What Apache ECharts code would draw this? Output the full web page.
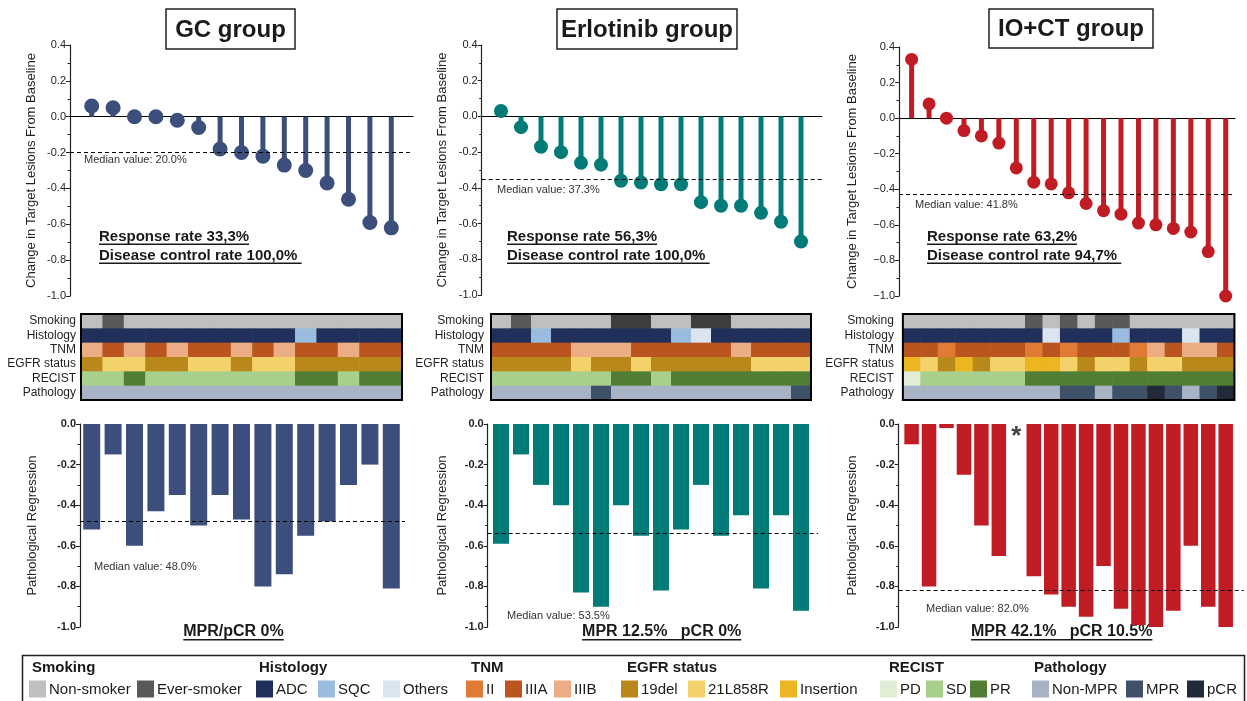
<!DOCTYPE html>
<html>
<head>
<meta charset="utf-8">
<title>Waterfall by group</title>
<script src="https://cdn.jsdelivr.net/npm/echarts@6/dist/echarts.min.js"></script>
<style>
  html, body { margin: 0; padding: 0; background: #fff; }
  #chart { width: 1247px; height: 701px; }
</style>
</head>
<body>
<div id="chart"></div>
<script>
  // ---------- data ----------
  const rowNames = ['Smoking', 'Histology', 'TNM', 'EGFR status', 'RECIST', 'Pathology'];

  // GC group (15 patients)
  const gcChange = [0.06, 0.05, 0.0, 0.0, -0.02, -0.06, -0.18, -0.20, -0.22, -0.27, -0.30, -0.37, -0.46, -0.59, -0.62];
  const gcRegression = [-0.52, -0.15, -0.60, -0.43, -0.35, -0.50, -0.35, -0.47, -0.80, -0.74, -0.55, -0.48, -0.30, -0.20, -0.81];
  const gcMedianChange = -0.20;
  const gcMedianRegression = -0.48;
  const gcSmoking = ['N','E','N','N','N','N','N','N','N','N','N','N','N','N','N'];
  const gcHistology = ['ADC','ADC','ADC','ADC','ADC','ADC','ADC','ADC','ADC','ADC','SQC','ADC','ADC','ADC','ADC'];
  const gcTnm = ['IIIB','IIIA','IIIB','IIIA','IIIB','IIIA','IIIA','IIIB','IIIA','IIIB','IIIA','IIIA','IIIB','IIIA','IIIA'];
  const gcEgfr = ['19del','21L858R','21L858R','19del','19del','21L858R','21L858R','19del','21L858R','21L858R','19del','19del','19del','19del','19del'];
  const gcRecist = ['SD','SD','PR','SD','SD','SD','SD','SD','SD','SD','PR','PR','SD','PR','PR'];
  const gcPathology = ['Non-MPR','Non-MPR','Non-MPR','Non-MPR','Non-MPR','Non-MPR','Non-MPR','Non-MPR','Non-MPR','Non-MPR','Non-MPR','Non-MPR','Non-MPR','Non-MPR','Non-MPR'];

  // Erlotinib group (16 patients)
  const erlChange = [0.03, -0.06, -0.17, -0.20, -0.26, -0.27, -0.36, -0.37, -0.38, -0.38, -0.48, -0.50, -0.50, -0.54, -0.59, -0.70];
  const erlRegression = [-0.59, -0.15, -0.30, -0.40, -0.83, -0.90, -0.40, -0.55, -0.82, -0.52, -0.30, -0.55, -0.45, -0.81, -0.45, -0.92];
  const erlMedianChange = -0.35;
  const erlMedianRegression = -0.54;
  const erlSmoking = ['N','E','N','N','N','N','C','C','N','N','C','C','N','N','N','N'];
  const erlHistology = ['ADC','ADC','SQC','ADC','ADC','ADC','ADC','ADC','ADC','SQC','Others','ADC','ADC','ADC','ADC','ADC'];
  const erlTnm = ['IIIA','IIIA','IIIA','IIIA','IIIB','IIIB','IIIB','IIIA','IIIA','IIIA','IIIA','IIIA','IIIB','IIIA','IIIA','IIIA'];
  const erlEgfr = ['19del','19del','19del','19del','21L858R','19del','19del','21L858R','19del','19del','19del','19del','19del','21L858R','21L858R','21L858R'];
  const erlRecist = ['SD','SD','SD','SD','SD','SD','PR','PR','SD','PR','PR','PR','PR','PR','PR','PR'];
  const erlPathology = ['Non-MPR','Non-MPR','Non-MPR','Non-MPR','Non-MPR','MPR','Non-MPR','Non-MPR','Non-MPR','Non-MPR','Non-MPR','Non-MPR','Non-MPR','Non-MPR','Non-MPR','MPR'];

  // IO+CT group (19 patients), patient 7 has no pathology value (*)
  const ioChange = [0.33, 0.08, 0.0, -0.07, -0.10, -0.14, -0.28, -0.36, -0.37, -0.42, -0.48, -0.52, -0.54, -0.59, -0.60, -0.62, -0.64, -0.75, -1.00];
  const ioRegression = [-0.10, -0.80, -0.02, -0.25, -0.50, -0.65, null, -0.75, -0.84, -0.90, -0.95, -0.70, -0.91, -0.99, -1.00, -0.92, -0.60, -0.90, -1.00];
  const ioMedianChange = -0.43;
  const ioMedianRegression = -0.82;
  const ioMissing = [6];
  const ioSmoking = ['N','N','N','N','N','N','N','E','N','E','N','E','E','N','N','N','N','N','N'];
  const ioHistology = ['ADC','ADC','ADC','ADC','ADC','ADC','ADC','ADC','Others','ADC','ADC','ADC','SQC','ADC','ADC','ADC','Others','ADC','ADC'];
  const ioTnm = ['IIIA','IIIA','II','IIIA','IIIA','IIIA','IIIA','II','IIIA','II','IIIA','IIIA','IIIA','II','IIIB','IIIA','IIIB','IIIB','IIIA'];
  const ioEgfr = ['Insertion','21L858R','19del','Insertion','19del','21L858R','21L858R','Insertion','Insertion','21L858R','19del','21L858R','21L858R','19del','21L858R','21L858R','19del','19del','19del'];
  const ioRecist = ['PD','SD','SD','SD','SD','SD','SD','PR','PR','PR','PR','PR','PR','PR','PR','PR','PR','PR','PR'];
  const ioPathology = ['Non-MPR','Non-MPR','Non-MPR','Non-MPR','Non-MPR','Non-MPR','Non-MPR','Non-MPR','Non-MPR','MPR','MPR','Non-MPR','MPR','MPR','pCR','MPR','Non-MPR','MPR','pCR'];

  // category colours
  const smokingColors = { N: '#bfbfbf', E: '#595959', C: '#3e3e3e' };
  const histologyColors = { ADC: '#21305a', SQC: '#9abddf', Others: '#dbe5f0' };
  const tnmColors = { II: '#e07a35', IIIA: '#ba5520', IIIB: '#edad84' };
  const egfrColors = { '19del': '#b8891a', '21L858R': '#f3d26b', Insertion: '#edb521' };
  const recistColors = { PD: '#e0eed6', SD: '#a8cf8c', PR: '#517e34' };
  const pathologyColors = { 'Non-MPR': '#a8b4c6', MPR: '#3f5069', pCR: '#222a37' };
  const rowPalettes = [smokingColors, histologyColors, tnmColors, egfrColors, recistColors, pathologyColors];

  const legendGroups = [
    { title: 'Smoking', keys: ['N', 'E'], labels: ['Non-smoker', 'Ever-smoker'], colors: smokingColors },
    { title: 'Histology', keys: ['ADC', 'SQC', 'Others'], labels: ['ADC', 'SQC', 'Others'], colors: histologyColors },
    { title: 'TNM', keys: ['II', 'IIIA', 'IIIB'], labels: ['II', 'IIIA', 'IIIB'], colors: tnmColors },
    { title: 'EGFR status', keys: ['19del', '21L858R', 'Insertion'], labels: ['19del', '21L858R', 'Insertion'], colors: egfrColors },
    { title: 'RECIST', keys: ['PD', 'SD', 'PR'], labels: ['PD', 'SD', 'PR'], colors: recistColors },
    { title: 'Pathology', keys: ['Non-MPR', 'MPR', 'pCR'], labels: ['Non-MPR', 'MPR', 'pCR'], colors: pathologyColors }
  ];

  const panels = [
    {
      title: 'GC group', color: '#3c4e7b',
      change: gcChange, regression: gcRegression,
      medChange: gcMedianChange, medRegression: gcMedianRegression,
      rows: [gcSmoking, gcHistology, gcTnm, gcEgfr, gcRecist, gcPathology],
      medChangeText: 'Median value: 20.0%', medRegText: 'Median value: 48.0%',
      resp: 'Response rate 33,3%', dcr: 'Disease control rate 100,0% ',
      summary: 'MPR/pCR 0%', missing: []
    },
    {
      title: 'Erlotinib group', color: '#007b77',
      change: erlChange, regression: erlRegression,
      medChange: erlMedianChange, medRegression: erlMedianRegression,
      rows: [erlSmoking, erlHistology, erlTnm, erlEgfr, erlRecist, erlPathology],
      medChangeText: 'Median value: 37.3%', medRegText: 'Median value: 53.5%',
      resp: 'Response rate 56,3%', dcr: 'Disease control rate 100,0% ',
      summary: 'MPR 12.5%   pCR 0%', missing: []
    },
    {
      title: 'IO+CT group', color: '#c11c24',
      change: ioChange, regression: ioRegression,
      medChange: ioMedianChange, medRegression: ioMedianRegression,
      rows: [ioSmoking, ioHistology, ioTnm, ioEgfr, ioRecist, ioPathology],
      medChangeText: 'Median value: 41.8%', medRegText: 'Median value: 82.0%',
      resp: 'Response rate 63,2%', dcr: 'Disease control rate 94,7% ',
      summary: 'MPR 42.1%   pCR 10.5%', missing: ioMissing, unicodeMinus: true
    }
  ];

  // ---------- layout ----------
  const layouts = [
    { c0: 91.7, s: 21.4, topL: 70, topR: 413, topT: 45, topB: 296, botL: 80, botR: 405, gapTop: 32, gapBot: 41, labMargin: 5,
      box: [166, 9, 129, 40], medTop: [84, 160], resp: [99, 237], medBot: [94, 567], sumX: 233.5, dot: 15, stem: 5, bar: 17 },
    { c0: 501, s: 20, topL: 481.7, topR: 821.7, topT: 45, topB: 295, botL: 487.7, botR: 818, gapTop: 33, gapBot: 39, labMargin: 7,
      box: [557, 9, 180, 40], medTop: [497, 190], resp: [507, 237], medBot: [507, 616], sumX: 661.7, dot: 14, stem: 5, bar: 16 },
    { c0: 911.6, s: 17.45, topL: 899, topR: 1235, topT: 47, topB: 296, botL: 898.7, botR: 1243.7, gapTop: 40, gapBot: 40, labMargin: 9,
      box: [989, 9, 164, 39], medTop: [915, 205], resp: [927, 237], medBot: [926, 609], sumX: 1061.7, dot: 13, stem: 5, bar: 14.5 }
  ];
  const HEAT_TOP = 314, HEAT_H = 86, BOT_TOP = 424, BOT_H = 203;
  const FONT = '"Liberation Sans", Arial, Helvetica, sans-serif';
  const INK = '#231f20';

  const measure = document.createElement('canvas').getContext('2d');
  function textWidth(t, font) { measure.font = font; return measure.measureText(t).width; }

  function tickFmt(minus) {
    return function (v) {
      if (Math.abs(v) < 1e-9) return '0.0';
      const t = v.toFixed(1);
      return minus ? t.replace('-', '\u2212') : t;
    };
  }

  function valueAxisY(gi, min, max, name, gap, bold, minus) {
    return {
      gridIndex: gi, type: 'value', min: min, max: max, interval: 0.2,
      axisLine: { show: true, onZero: false, lineStyle: { color: INK, width: 1.2 } },
      axisTick: { show: true, length: 4, lineStyle: { color: INK, width: 1 } },
      minorTick: { show: true, splitNumber: 2, length: 2.5, lineStyle: { color: INK, width: 1 } },
      splitLine: { show: false }, minorSplitLine: { show: false },
      axisLabel: { fontSize: 11, color: INK, fontFamily: FONT, fontWeight: bold ? 'bold' : 'normal', margin: 4, formatter: tickFmt(minus) },
      name: name, nameLocation: 'middle', nameGap: gap, nameRotate: 90,
      nameTextStyle: { fontSize: 13, color: INK, fontFamily: FONT }
    };
  }

  function medianLine(v) {
    return {
      silent: true, symbol: 'none', label: { show: false },
      lineStyle: { type: [4, 3], color: '#000', width: 1 },
      data: [{ yAxis: v }]
    };
  }

  const grid = [], xAxis = [], yAxis = [], series = [], graphic = [];

  panels.forEach(function (p, k) {
    const L = layouts[k];
    const n = p.change.length;
    const gi = k * 3;
    const xr = function (left, right) { return { min: (left - L.c0) / L.s, max: (right - L.c0) / L.s }; };

    // waterfall (lollipop)
    grid.push({ left: L.topL, top: L.topT, width: L.topR - L.topL, height: L.topB - L.topT, outerBoundsMode: 'none' });
    const rTop = xr(L.topL, L.topR);
    xAxis.push({
      gridIndex: gi, type: 'value', min: rTop.min, max: rTop.max,
      axisLine: { show: true, onZero: true, lineStyle: { color: '#000', width: 1.2 } },
      axisTick: { show: false }, axisLabel: { show: false }, splitLine: { show: false }
    });
    yAxis.push(valueAxisY(gi, -1, 0.4, 'Change in Target Lesions From Baseline', L.gapTop, false, p.unicodeMinus));
    const pts = p.change.map(function (v, i) { return [i, v]; });
    series.push({
      type: 'bar', xAxisIndex: gi, yAxisIndex: gi, barWidth: L.stem, silent: true,
      itemStyle: { color: p.color }, data: pts, markLine: medianLine(p.medChange)
    });
    series.push({
      type: 'scatter', xAxisIndex: gi, yAxisIndex: gi, symbolSize: L.dot, silent: true, z: 3,
      itemStyle: { color: p.color, opacity: 1 }, data: pts
    });

    // heatmap of characteristics
    const hLeft = L.c0 - L.s / 2;
    grid.push({ left: hLeft, top: HEAT_TOP, width: n * L.s, height: HEAT_H, outerBoundsMode: 'none' });
    xAxis.push({ gridIndex: gi + 1, type: 'value', min: -0.5, max: n - 0.5, show: false });
    yAxis.push({
      gridIndex: gi + 1, type: 'category', data: rowNames, inverse: true,
      axisLine: { show: false }, axisTick: { show: false }, splitLine: { show: false },
      axisLabel: { interval: 0, fontSize: 12, color: INK, fontFamily: FONT, margin: L.labMargin }
    });
    const cells = [], cellColors = [];
    p.rows.forEach(function (row, r) {
      row.forEach(function (code, c) {
        cells.push([c, r]);
        cellColors.push(rowPalettes[r][code]);
      });
    });
    series.push({
      type: 'custom', xAxisIndex: gi + 1, yAxisIndex: gi + 1, silent: true,
      encode: { x: 0, y: 1 }, data: cells,
      renderItem: function (params, api) {
        const pt = api.coord([api.value(0), api.value(1)]);
        const w = api.size([1, 0])[0];
        const h = api.size([0, 1])[1];
        return {
          type: 'rect',
          shape: { x: pt[0] - w / 2, y: pt[1] - h / 2, width: w + 0.6, height: h + 0.6 },
          style: { fill: cellColors[params.dataIndex] }
        };
      }
    });
    graphic.push({
      type: 'rect', z: 100, silent: true,
      shape: { x: hLeft, y: HEAT_TOP, width: n * L.s, height: HEAT_H },
      style: { fill: 'none', stroke: '#000', lineWidth: 2 }
    });

    // pathological regression bars
    grid.push({ left: L.botL, top: BOT_TOP, width: L.botR - L.botL, height: BOT_H, outerBoundsMode: 'none' });
    const rBot = xr(L.botL, L.botR);
    xAxis.push({ gridIndex: gi + 2, type: 'value', min: rBot.min, max: rBot.max, show: false });
    yAxis.push(valueAxisY(gi + 2, -1, 0, 'Pathological Regression', L.gapBot, true, false));
    series.push({
      type: 'bar', xAxisIndex: gi + 2, yAxisIndex: gi + 2, barWidth: L.bar, silent: true,
      itemStyle: { color: p.color },
      data: p.regression.map(function (v, i) { return [i, v]; }).filter(function (d) { return d[1] !== null; }),
      markLine: medianLine(p.medRegression)
    });
    if (p.missing.length) {
      series.push({
        type: 'scatter', xAxisIndex: gi + 2, yAxisIndex: gi + 2, symbolSize: 1, silent: true,
        itemStyle: { color: 'rgba(0,0,0,0)' },
        data: p.missing.map(function (i) { return [i, 0]; }),
        label: { show: true, position: 'bottom', distance: -1, formatter: '*', fontSize: 26, fontWeight: 'bold', color: '#111', fontFamily: FONT }
      });
    }

    // title box
    graphic.push({
      type: 'rect', silent: true,
      shape: { x: L.box[0], y: L.box[1], width: L.box[2], height: L.box[3] },
      style: { fill: '#fff', stroke: INK, lineWidth: 1.5 }
    });
    graphic.push({
      type: 'text', silent: true, x: L.box[0] + L.box[2] / 2, y: L.box[1] + L.box[3] / 2 + 1,
      style: { text: p.title, font: 'bold 24px ' + FONT, fill: '#1a1a1a', align: 'center', verticalAlign: 'middle' }
    });

    // annotations
    const smallFont = '11px ' + FONT;
    graphic.push({ type: 'text', silent: true, x: L.medTop[0], y: L.medTop[1],
      style: { text: p.medChangeText, font: smallFont, fill: '#333', align: 'left', verticalAlign: 'middle' } });
    graphic.push({ type: 'text', silent: true, x: L.medBot[0], y: L.medBot[1],
      style: { text: p.medRegText, font: smallFont, fill: '#333', align: 'left', verticalAlign: 'middle' } });

    const boldFont = 'bold 15px ' + FONT;
    [p.resp, p.dcr].forEach(function (t, j) {
      const y = L.resp[1] + j * 19;
      graphic.push({ type: 'text', silent: true, x: L.resp[0], y: y,
        style: { text: t, font: boldFont, fill: '#1a1a1a', align: 'left', verticalAlign: 'middle' } });
      graphic.push({ type: 'rect', silent: true,
        shape: { x: L.resp[0], y: y + 6.5, width: textWidth(t, boldFont), height: 1.5 },
        style: { fill: '#1a1a1a' } });
    });

    const sumFont = 'bold 16px ' + FONT;
    const sw = textWidth(p.summary, sumFont);
    graphic.push({ type: 'text', silent: true, x: L.sumX, y: 632,
      style: { text: p.summary, font: sumFont, fill: '#1a1a1a', align: 'center', verticalAlign: 'middle' } });
    graphic.push({ type: 'rect', silent: true,
      shape: { x: L.sumX - sw / 2, y: 639, width: sw, height: 1.5 },
      style: { fill: '#1a1a1a' } });
  });

  // ---------- legend ----------
  const legendTitleX = [32, 259, 471, 627, 889, 1034];
  const legendSwatchX = [[29, 137], [256, 318, 383], [466, 505, 554], [621, 688, 780], [880, 926, 970], [1032, 1126, 1187]];
  graphic.push({
    type: 'rect', silent: true,
    shape: { x: 22.5, y: 655.5, width: 1222, height: 60 },
    style: { fill: 'none', stroke: INK, lineWidth: 1.5 }
  });
  legendGroups.forEach(function (g, gI) {
    graphic.push({ type: 'text', silent: true, x: legendTitleX[gI], y: 668,
      style: { text: g.title, font: 'bold 15px ' + FONT, fill: '#1a1a1a', align: 'left', verticalAlign: 'middle' } });
    g.keys.forEach(function (key, i) {
      const sx = legendSwatchX[gI][i];
      graphic.push({ type: 'rect', silent: true,
        shape: { x: sx, y: 680.5, width: 17, height: 17 },
        style: { fill: g.colors[key] } });
      graphic.push({ type: 'text', silent: true, x: sx + 20, y: 689.5,
        style: { text: g.labels[i], font: '15px ' + FONT, fill: '#1a1a1a', align: 'left', verticalAlign: 'middle' } });
    });
  });

  const chart = echarts.init(document.getElementById('chart'), null, { renderer: 'canvas' });
  chart.setOption({
    backgroundColor: '#fff',
    animation: false,
    textStyle: { fontFamily: FONT },
    grid: grid,
    xAxis: xAxis,
    yAxis: yAxis,
    series: series,
    graphic: graphic
  });
</script>
</body>
</html>
